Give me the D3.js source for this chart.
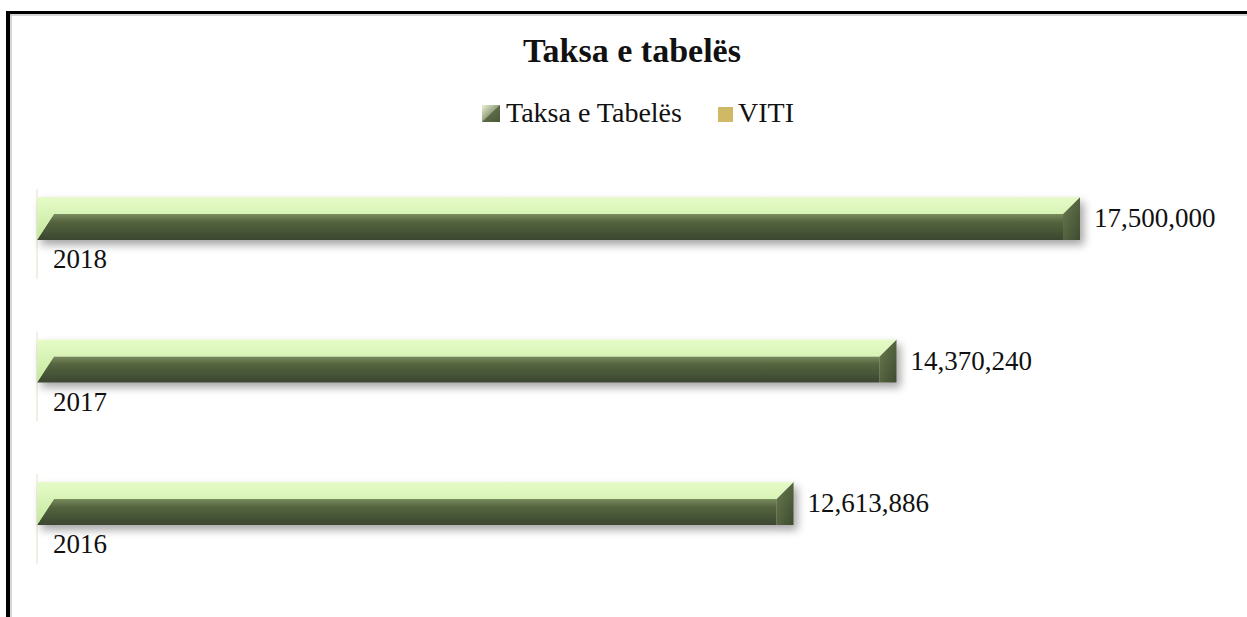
<!DOCTYPE html>
<html>
<head>
<meta charset="utf-8">
<script src="https://cdn.jsdelivr.net/npm/d3@7"></script>
<style>
  body { margin: 0; background: #fff; }
  svg text { font-family: "Liberation Serif", "DejaVu Serif", serif; fill: #111; }
</style>
</head>
<body>
<div id="chart"></div>
<script>
// Chart data.
var years = ["2018", "2017", "2016"];
var taksaValues = [17500000, 14370240, 12613886];
var legendLabels = ["Taksa e Tabelës", "VITI"];
var chartTitle = "Taksa e tabelës";

var width = 1247, height = 617;
var depth = 17;      // oblique depth of the 3D bars
var topFace = 17;    // height of visible top face
var frontFace = 26;  // height of front face

var svg = d3.select("#chart").append("svg")
    .attr("width", width)
    .attr("height", height);

var defs = svg.append("defs");

var gTop = defs.append("linearGradient").attr("id", "gTop")
    .attr("x1", 0).attr("y1", 0).attr("x2", 0).attr("y2", 1);
gTop.append("stop").attr("offset", "0%").attr("stop-color", "#e6fbc8");
gTop.append("stop").attr("offset", "100%").attr("stop-color", "#c2e89a");

var gFront = defs.append("linearGradient").attr("id", "gFront")
    .attr("x1", 0).attr("y1", 0).attr("x2", 0).attr("y2", 1);
gFront.append("stop").attr("offset", "0%").attr("stop-color", "#7a8b5e");
gFront.append("stop").attr("offset", "30%").attr("stop-color", "#55653f");
gFront.append("stop").attr("offset", "100%").attr("stop-color", "#3b4630");

var gSide = defs.append("linearGradient").attr("id", "gSide")
    .attr("x1", 0).attr("y1", 0).attr("x2", 1).attr("y2", 1);
gSide.append("stop").attr("offset", "0%").attr("stop-color", "#6a7b4e");
gSide.append("stop").attr("offset", "100%").attr("stop-color", "#3f4b31");

var gIcon = defs.append("linearGradient").attr("id", "gIcon")
    .attr("x1", 0).attr("y1", 0).attr("x2", 1).attr("y2", 1);
gIcon.append("stop").attr("offset", "0%").attr("stop-color", "#e9f5d0");
gIcon.append("stop").attr("offset", "100%").attr("stop-color", "#3f4b31");

var shadow = defs.append("filter").attr("id", "shadow")
    .attr("x", "-5%").attr("y", "-50%").attr("width", "110%").attr("height", "220%");
shadow.append("feDropShadow")
    .attr("dx", 4).attr("dy", 5).attr("stdDeviation", 4)
    .attr("flood-color", "#000").attr("flood-opacity", 0.35);

// Frame (only top and left edges are visible in the reference)
svg.append("line").attr("x1", 6).attr("x2", width).attr("y1", 15).attr("y2", 15)
    .attr("stroke", "#c8c8c8").attr("stroke-width", 1.5);
svg.append("line").attr("x1", 11).attr("x2", 11).attr("y1", 14).attr("y2", height)
    .attr("stroke", "#c8c8c8").attr("stroke-width", 1.5);
svg.append("line").attr("x1", 6).attr("x2", width).attr("y1", 12.5).attr("y2", 12.5)
    .attr("stroke", "#000").attr("stroke-width", 3);
svg.append("line").attr("x1", 8).attr("x2", 8).attr("y1", 11).attr("y2", height)
    .attr("stroke", "#000").attr("stroke-width", 4);

// Title
svg.append("text")
    .attr("x", 632).attr("y", 62)
    .attr("text-anchor", "middle")
    .style("font-size", "34px")
    .style("font-weight", "bold")
    .text(chartTitle);

// Legend
var legend = svg.append("g").attr("transform", "translate(482,105)");
legend.append("rect").attr("width", 18).attr("height", 17).attr("fill", "url(#gIcon)");
legend.append("polygon").attr("points", "0,17 18,0 18,17").attr("fill", "#4d5c3a").attr("opacity", 0.8);
legend.append("text").attr("x", 24).attr("y", 17)
    .style("font-size", "28px").text(legendLabels[0]);
legend.append("rect").attr("x", 236).attr("y", 2).attr("width", 15).attr("height", 15)
    .attr("fill", "#cfb966");
legend.append("text").attr("x", 256).attr("y", 17)
    .style("font-size", "28px").text(legendLabels[1]);

// Scales
var x = d3.scaleLinear().domain([0, 20000000]).range([37, 37 + 1026 * 20 / 17.5]);
var y = d3.scaleBand().domain(years).range([170, 170 + 142.5 * years.length]).paddingInner(0);

var data = years.map(function(yr, i) { return { year: yr, value: taksaValues[i] }; });

var rows = svg.selectAll("g.row").data(data).enter().append("g")
    .attr("class", "row")
    .attr("transform", function(d) { return "translate(0," + (y(d.year) + 27) + ")"; });

// faint wall edge
rows.append("line")
    .attr("x1", x(0)).attr("x2", x(0))
    .attr("y1", -8).attr("y2", 82)
    .attr("stroke", "#e6dec8").attr("stroke-width", 1);

var bars = rows.append("g").attr("filter", "url(#shadow)");

function x0() { return x(0); }
function x1(d) { return x(d.value); }

// front face
bars.append("polygon")
    .attr("points", function(d) {
      var a = x0(), b = x1(d), t = topFace, f = topFace + frontFace;
      return [[a, f], [a + depth, t], [b, t], [b, f]].join(" ");
    })
    .attr("fill", "url(#gFront)");

// side face
bars.append("polygon")
    .attr("points", function(d) {
      var b = x1(d), t = topFace, f = topFace + frontFace;
      return [[b, t], [b + depth, 0], [b + depth, f], [b, f]].join(" ");
    })
    .attr("fill", "url(#gSide)");

// top face
bars.append("polygon")
    .attr("points", function(d) {
      var a = x0(), b = x1(d), t = topFace, f = topFace + frontFace;
      return [[a, 0], [b + depth, 0], [b, t], [a + depth, t], [a, f]].join(" ");
    })
    .attr("fill", "url(#gTop)");

// Value labels
rows.append("text")
    .attr("x", function(d) { return x1(d) + depth + 14; })
    .attr("y", 30)
    .style("font-size", "27px")
    .text(function(d) { return d3.format(",")(d.value); });

// Category labels
rows.append("text")
    .attr("x", 53)
    .attr("y", 71)
    .style("font-size", "27px")
    .text(function(d) { return d.year; });
</script>
</body>
</html>
